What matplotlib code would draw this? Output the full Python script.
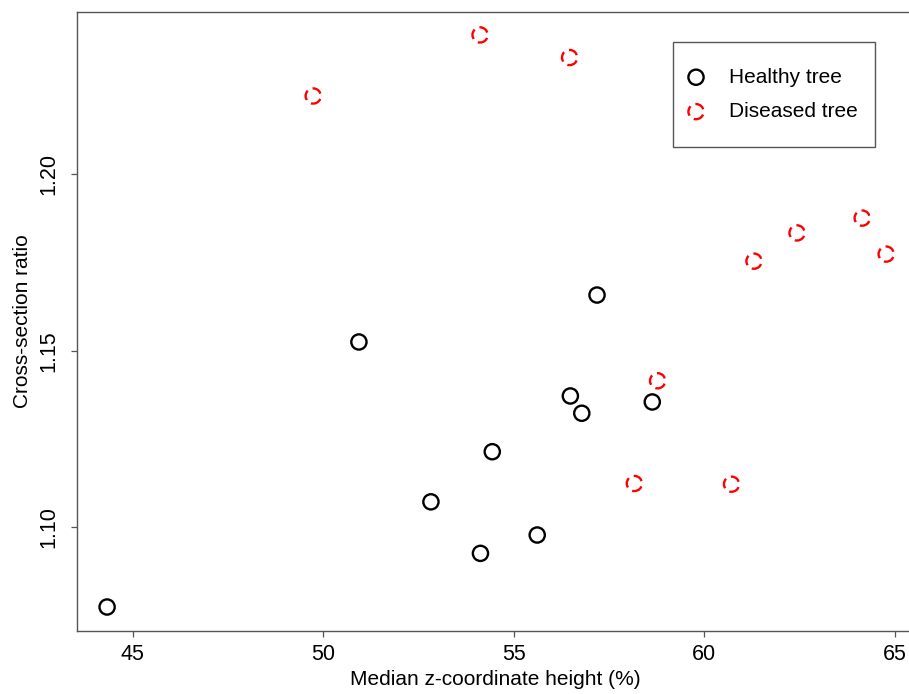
import matplotlib
matplotlib.use('Agg')
from matplotlib import pyplot as plt
from matplotlib.patches import Rectangle

plt.rcParams['font.family'] = ['Liberation Sans', 'DejaVu Sans']

# healthy trees
healthy_x = [44.33, 50.94, 52.83, 54.44, 54.13, 55.62, 56.49, 56.79, 57.19, 58.64]
healthy_y = [1.0774, 1.1525, 1.1072, 1.1214, 1.0926, 1.0978, 1.1372, 1.1323, 1.1658, 1.1355]

# diseased trees
diseased_x = [49.74, 54.12, 56.47, 58.17, 58.78, 60.72, 61.31, 62.44, 64.15, 64.78]
diseased_y = [1.2222, 1.2395, 1.2331, 1.1124, 1.1415, 1.1122, 1.1754, 1.1834, 1.1876, 1.1774]

x_ticks = [45, 50, 55, 60, 65]
y_ticks = [1.10, 1.15, 1.20]
y_ticklabels = ['1.10', '1.15', '1.20']

W, H = 909, 694
fig = plt.figure(figsize=(W/100, H/100), dpi=100)
ax = fig.add_axes([77/W, 1 - 631/H, (914 - 77)/W, (631 - 12)/H])

ax.scatter(healthy_x, healthy_y, s=120, facecolors='none', edgecolors='black',
           linewidths=1.7, label='Healthy tree', zorder=3)
ax.scatter(diseased_x, diseased_y, s=120, facecolors='none', edgecolors='red',
           linewidths=1.7, linestyle=(0.5, (4.3, 2.3)), label='Diseased tree', zorder=3)

ax.set_xlim(43.54, 65.51)
ax.set_ylim(1.0706, 1.246)
ax.set_xticks(x_ticks)
ax.set_yticks(y_ticks)
ax.set_yticklabels(y_ticklabels, rotation=90, va='center')

for sp in ax.spines.values():
    sp.set_color('#555555')
    sp.set_linewidth(1.0)
ax.tick_params(axis='both', direction='out', length=4, width=0.9, color='#555555',
               labelsize=15.5)
ax.tick_params(axis='x', pad=5)
ax.tick_params(axis='y', pad=9)

ax.set_xlabel('Median z-coordinate height (%)', fontsize=15)
ax.set_ylabel('Cross-section ratio', fontsize=15, labelpad=4)

# legend entries (frame drawn separately, R style with roomy box)
leg = ax.legend(loc='upper left', bbox_to_anchor=(685.6/W, 1 - 67.7/H),
                bbox_transform=fig.transFigure, borderaxespad=0, borderpad=0,
                fontsize=15, frameon=False, labelspacing=0.74,
                handletextpad=1.09, handlelength=1.0)
box = Rectangle((673/W, 1 - 146.7/H), 202/W, 105/H, transform=fig.transFigure,
                facecolor='white', edgecolor='#555555', linewidth=1.0, zorder=4)
ax.add_artist(box)
box.set_clip_on(False)
leg.set_zorder(5)

fig.savefig('out.png', dpi=100)
